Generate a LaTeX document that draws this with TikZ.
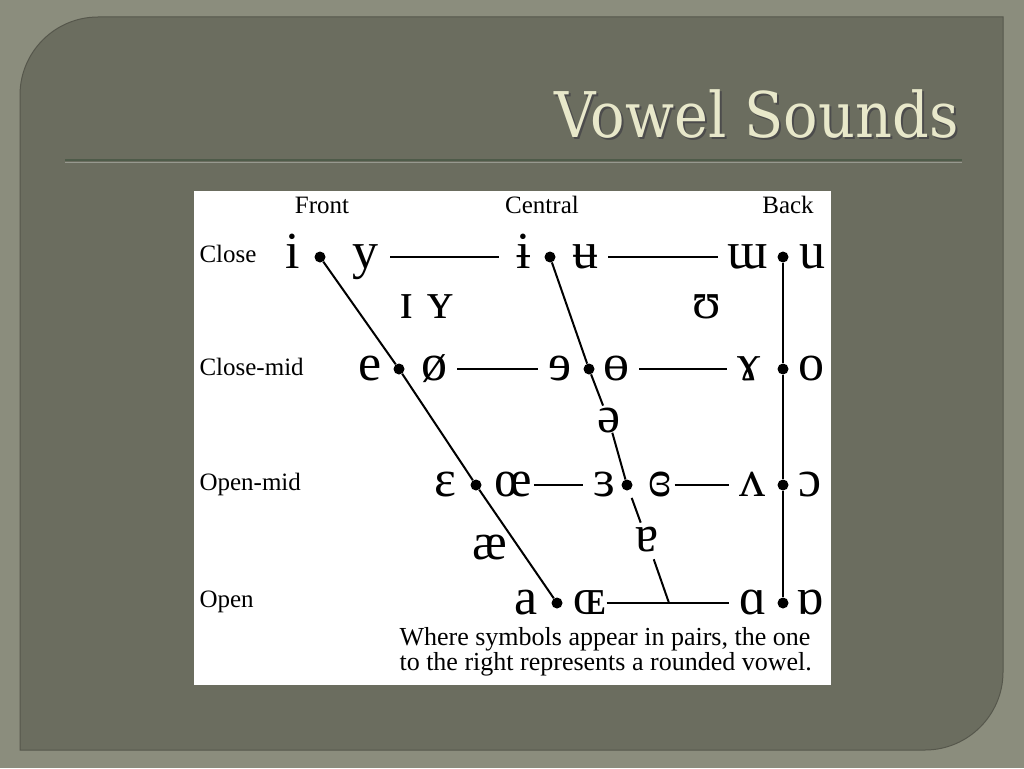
\documentclass[tikz,border=0pt]{standalone}
\usepackage{fontspec}
\setmainfont{Liberation Serif}
\newfontfamily\titlefont{DejaVu Serif}
\definecolor{slidebg}{HTML}{8B8D7D}
\definecolor{panelbg}{HTML}{6B6D5F}
\definecolor{titlecol}{HTML}{E8E8CA}
\definecolor{rulecol}{HTML}{4E5B49}

\begin{document}
\begin{tikzpicture}[x=1pt, y=-1pt,
    vowel/.style={inner sep=0pt, text height=23pt, text depth=0pt, font=\fontsize{52}{52}\selectfont},
    dot/.style={circle, fill=black, minimum size=11pt, inner sep=0pt},
    heading/.style={anchor=base, font=\fontsize{25}{25}\selectfont},
    rowname/.style={anchor=base west, font=\fontsize{25}{25}\selectfont},
    link/.style={line width=2pt, shorten <=10pt, shorten >=10pt},
    track/.style={line width=2pt}
]

  % slide background
  \useasboundingbox (0,0) rectangle (1024,768);
  \fill[slidebg] (0,0) rectangle (1024,768);
  \filldraw[fill=panelbg, draw=panelbg!80!black, line width=1pt]
    (20,750) -- (20,95) .. controls (20,52) and (55,17) .. (98,17) -- (1003,17)
    -- (1003,672) .. controls (1003,715) and (968,750) .. (925,750) -- cycle;

  % title and rule
  \node[anchor=base east, text=black!70, font=\titlefont\fontsize{63}{63}\selectfont] (titleshadow) at (964,139) {\scalebox{0.91}[1]{Vowel Sounds}};
  \node[anchor=base east, text=titlecol, font=\titlefont\fontsize{63}{63}\selectfont] (title) at (962,137) {\scalebox{0.91}[1]{Vowel Sounds}};
  \draw[rulecol, line width=1.5pt] (65,160) -- (962,160);
  \draw[panelbg!70!white, line width=0.8pt] (65,162) -- (962,162);

  % chart area
  \fill[white] (194,191) rectangle (831,685);

  % column and row names
  \node[heading] (front) at (322,213) {Front};
  \node[heading] (central) at (542,213) {Central};
  \node[heading] (back) at (788,213) {Back};
  \node[rowname] (close) at (196,262) {Close};
  \node[rowname] (closemid) at (196,375) {Close-mid};
  \node[rowname] (openmid) at (196,490) {Open-mid};
  \node[rowname] (open) at (196,607) {Open};

  % close
  \node[vowel] (i) at (293,257) {i};
  \node[dot] (dF1) at (320,257) {};
  \node[vowel] (y) at (365,257) {y};
  \node[vowel] (ibar) at (524,257) {ɨ};
  \node[dot] (dC1) at (550,257) {};
  \node[vowel] (ubar) at (585,257) {ʉ};
  \node[vowel] (wturn) at (748,257) {ɯ};
  \node[dot] (dB1) at (783,257) {};
  \node[vowel] (u) at (812,257) {u};

  % near-close
  \node[vowel] (smI) at (407,307) {ɪ};
  \node[vowel] (smY) at (440,307) {ʏ};
  \node[vowel] (hsU) at (707,307) {ʊ};

  % close-mid
  \node[vowel] (e) at (370,369) {e};
  \node[dot] (dF2) at (399,369) {};
  \node[vowel] (oslash) at (434,369) {ø};
  \node[vowel] (erev) at (560,369) {ɘ};
  \node[dot] (dC2) at (589,369) {};
  \node[vowel] (obar) at (616,369) {ɵ};
  \node[vowel] (ram) at (749,369) {ɤ};
  \node[dot] (dB2) at (783,369) {};
  \node[vowel] (o) at (811,369) {o};

  % mid
  \node[vowel] (schwa) at (609,421) {ə};

  % open-mid
  \node[vowel] (eps) at (445,485) {ɛ};
  \node[dot] (dF3) at (476,485) {};
  \node[vowel] (oe) at (513,485) {œ};
  \node[vowel] (rev3) at (604,485) {ɜ};
  \node[dot] (dC3) at (627,485) {};
  \node[vowel] (crev3) at (660,485) {ɞ};
  \node[vowel] (vturn) at (752,485) {ʌ};
  \node[dot] (dB3) at (783,485) {};
  \node[vowel] (oopen) at (810,485) {ɔ};

  % near-open
  \node[vowel] (ae) at (490,548) {æ};
  \node[vowel] (aturn) at (647,540) {ɐ};

  % open
  \node[vowel] (a) at (526,603) {a};
  \node[dot] (dF4) at (557,603) {};
  \node[vowel] (OE) at (590,603) {ɶ};
  \coordinate (cmeet) at (669,603);
  \node[vowel] (alpha) at (753,603) {ɑ};
  \node[dot] (dB4) at (783,603) {};
  \node[vowel] (alphaturn) at (810,603) {ɒ};

  % front, central and back lines
  \draw[track] (dF1) -- (dF2) -- (dF3) -- (dF4);
  \draw[track, shorten >=4pt] (dC1) -- (dC2) -- (schwa);
  \draw[track, shorten <=8pt, shorten >=6pt] (schwa) -- (dC3) -- (aturn);
  \draw[track, shorten <=8pt] (aturn) -- (cmeet);
  \draw[track] (dB1) -- (dB2) -- (dB3) -- (dB4);

  % rows
  \draw[link, shorten <=12pt, shorten >=18pt] (y) -- (ibar);
  \draw[link] (ubar) -- (wturn);
  \draw[link] (oslash) -- (erev);
  \draw[link] (obar) -- (ram);
  \draw[link, shorten <=2pt] (oe) -- (rev3);
  \draw[link, shorten <=3pt] (crev3) -- (vturn);
  \draw[link, shorten <=0pt] (OE) -- (alpha);

  % note
  \node[anchor=base west, align=left, font=\fontsize{26}{25}\selectfont] (note) at (396,670)
    {Where symbols appear in pairs, the one\\to the right represents a rounded vowel.};
\end{tikzpicture}
\end{document}
